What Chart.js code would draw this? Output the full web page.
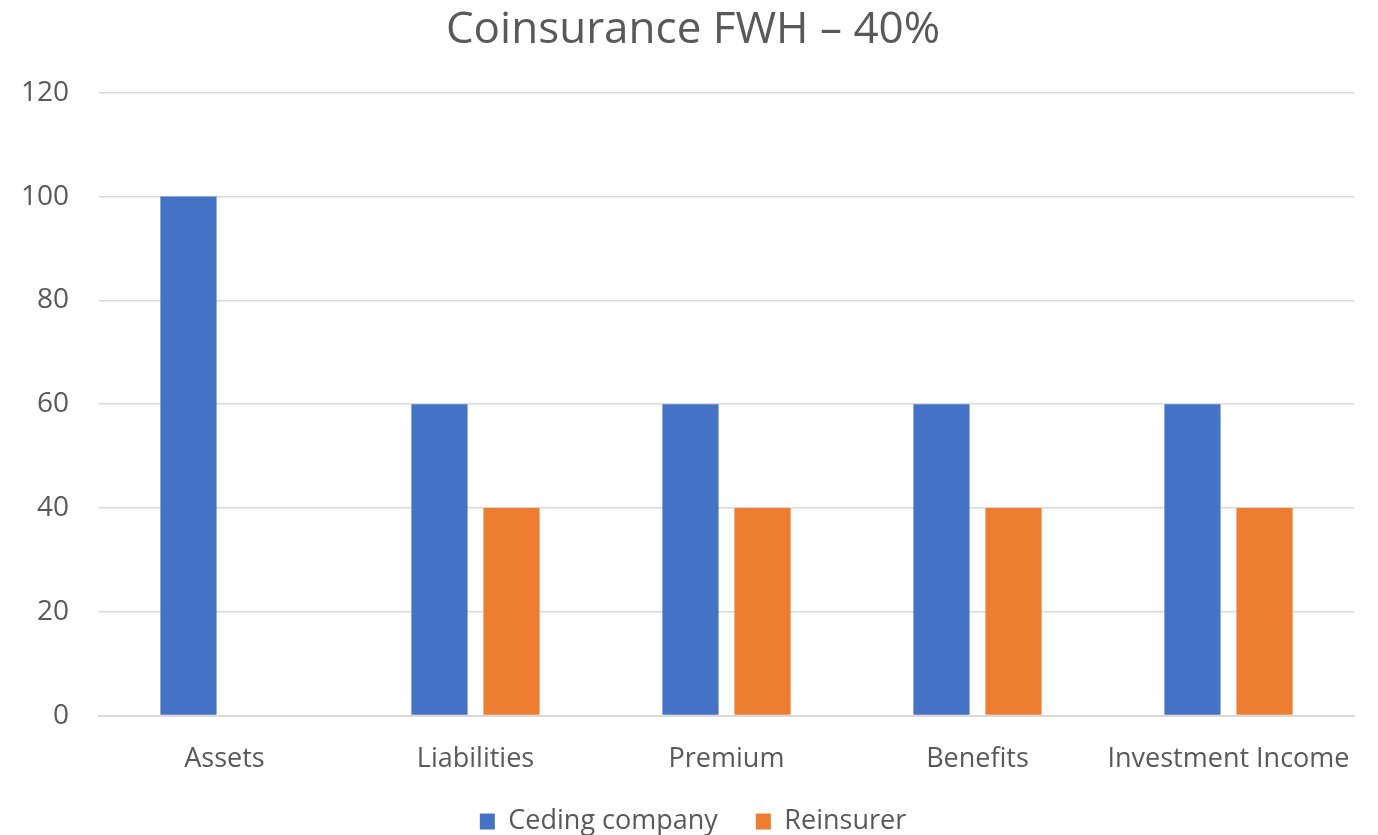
<!DOCTYPE html>
<html>
<head>
<meta charset="utf-8">
<script src="https://cdn.jsdelivr.net/npm/chart.js@4"></script>
<style>
  html, body { margin: 0; padding: 0; background: #fff; }
  #wrap { width: 1378px; height: 835px; }
</style>
</head>
<body>
<div id="wrap"><canvas id="grafico"></canvas></div>
<script>
const categorias = ["Assets", "Liabilities", "Premium", "Benefits", "Investment Income"];
const cedente = [100, 60, 60, 60, 60];
const ressegurador = [null, 40, 40, 40, 40];
const titulo = "Coinsurance FWH \u2013 40%";

const cinza = "#595959";
const fonte = "'Open Sans', 'Noto Sans', sans-serif";

const ctx = document.getElementById("grafico").getContext("2d");
new Chart(ctx, {
  type: "bar",
  data: {
    labels: categorias,
    datasets: [
      { label: "Ceding company", data: cedente, backgroundColor: "#4472c4" },
      { label: "Reinsurer", data: ressegurador, backgroundColor: "#ed7d31" }
    ]
  },
  options: {
    responsive: true,
    maintainAspectRatio: false,
    animation: false,
    categoryPercentage: 0.574,
    barPercentage: 0.78,
    layout: { padding: { left: 8, right: 0, top: 4, bottom: -10 } },
    plugins: {
      title: {
        display: true,
        text: titulo,
        color: cinza,
        font: { family: fonte, size: 44, weight: "normal" },
        padding: { top: 0, bottom: 36 }
      },
      legend: {
        position: "bottom",
        labels: {
          color: cinza,
          font: { family: fonte, size: 27 },
          boxWidth: 15,
          boxHeight: 16,
          padding: 38
        }
      },
      tooltip: { enabled: false }
    },
    scales: {
      x: {
        grid: { display: false },
        border: { color: "#d9d9d9", width: 2 },
        afterFit: (escala) => { escala.height -= 26; },
        ticks: {
          color: cinza,
          font: { family: fonte, size: 27 },
          padding: 20,
          maxRotation: 0,
          minRotation: 0,
          autoSkip: false
        }
      },
      y: {
        min: 0,
        max: 120,
        afterFit: (escala) => { escala.width = 91; },
        ticks: { stepSize: 20, color: cinza, font: { family: fonte, size: 28 }, padding: 30 },
        grid: { color: "#d9d9d9", lineWidth: 1.5, drawTicks: false },
        border: { display: false }
      },
      // eixo vazio só para deixar a margem direita
      margem: {
        position: "right",
        display: true,
        afterFit: (escala) => { escala.width = 24; },
        ticks: { display: false },
        grid: { display: false },
        border: { display: false }
      }
    }
  }
});
</script>
</body>
</html>
